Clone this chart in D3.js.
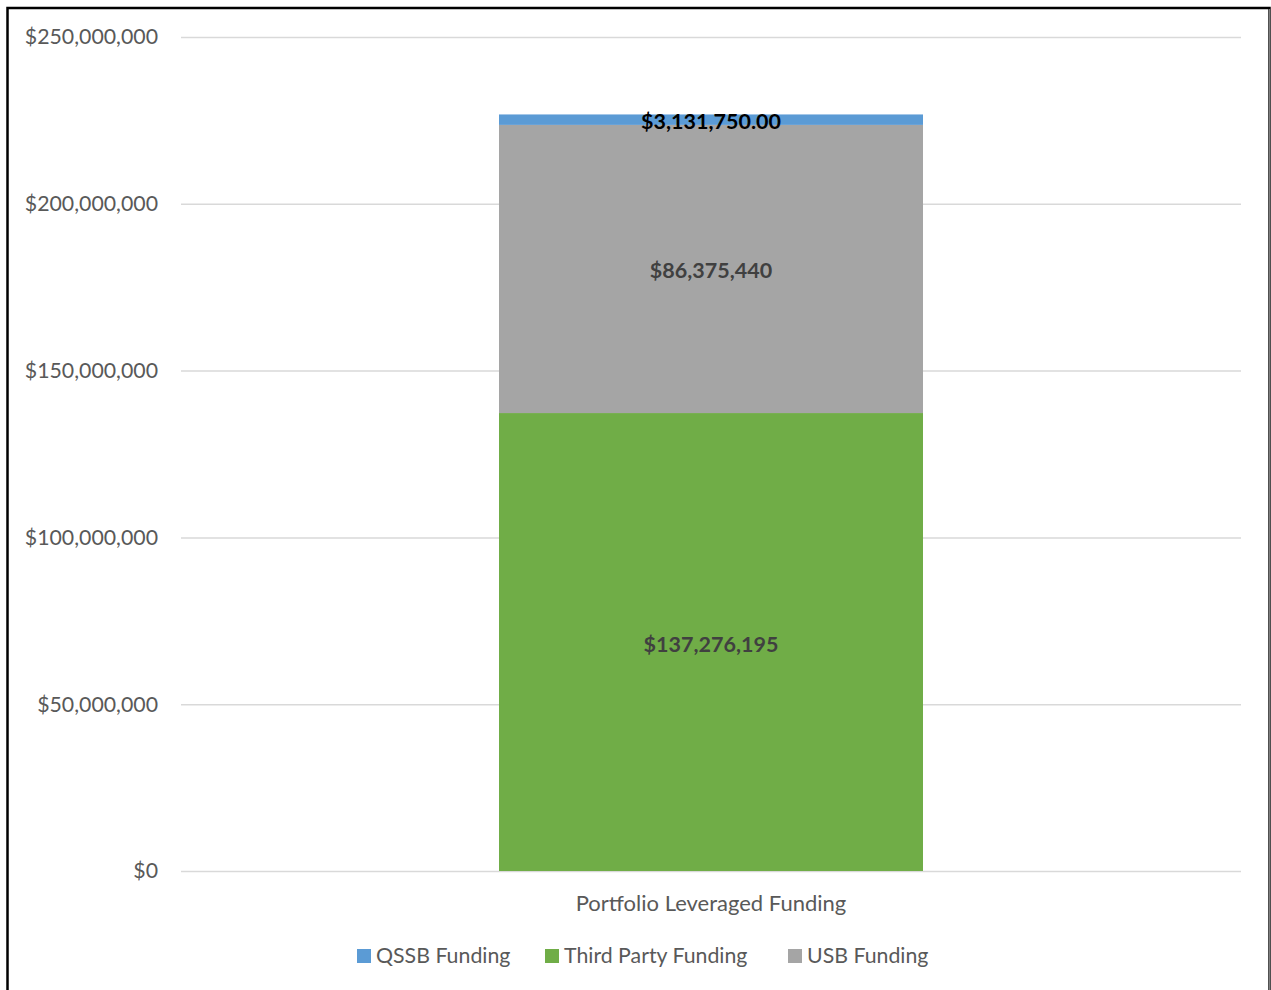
<html>
<head>
<script src="https://d3js.org/d3.v7.min.js"></script>
<style>
  body { margin: 0; background: #fff; }
  text { font-family: Lato, "Open Sans", sans-serif; }
  .axis path { display: none; }
  .axis line { stroke: #d9d9d9; stroke-width: 1.5; }
  .axis text { fill: #595959; font-size: 21.3px; }
</style>
</head>
<body>
<div id="chart"></div>
<script>
// chart data
const categories = ['Portfolio Leveraged Funding'];
const seriesNames = ['Third Party Funding', 'USB Funding', 'QSSB Funding'];
const thirdParty = [137276195];
const usb = [86375440];
const qssb = [3131750];
const valueLabels = ['$137,276,195', '$86,375,440', '$3,131,750.00'];
const yTicks = [0, 50000000, 100000000, 150000000, 200000000, 250000000];
const legendOrder = ['QSSB Funding', 'Third Party Funding', 'USB Funding'];

const colors = { 'QSSB Funding': '#5b9bd5', 'Third Party Funding': '#70ad47', 'USB Funding': '#a5a5a5' };
const labelColors = { 'QSSB Funding': '#000', 'Third Party Funding': '#404040', 'USB Funding': '#404040' };

const width = 1271, height = 990;
const margin = { top: 37, right: 30, bottom: 119, left: 181 };

const svg = d3.select('#chart').append('svg')
    .attr('width', width)
    .attr('height', height);

// outer border
svg.append('rect')
    .attr('x', 7.5).attr('y', 8)
    .attr('width', 1262).attr('height', 990)
    .attr('fill', 'none').attr('stroke', '#000').attr('stroke-width', 2.5);
svg.append('line')
    .attr('x1', 1269.5).attr('x2', 1269.5).attr('y1', 9).attr('y2', 990)
    .attr('stroke', '#7f7f7f').attr('stroke-width', 1.5);

const x = d3.scaleBand()
    .domain(categories)
    .range([margin.left, width - margin.right])
    .paddingInner(0.4).paddingOuter(0.3);

const y = d3.scaleLinear()
    .domain([0, 250000000])
    .range([height - margin.bottom, margin.top]);

// grid / y axis
svg.append('g')
    .attr('class', 'axis')
    .attr('transform', `translate(${margin.left},0)`)
    .call(d3.axisLeft(y)
        .tickValues(yTicks)
        .tickSize(-(width - margin.right - margin.left))
        .tickPadding(23)
        .tickFormat(d => '$' + d3.format(',')(d)));

// stack
const rows = categories.map((c, i) => ({
    cat: c,
    'Third Party Funding': thirdParty[i],
    'USB Funding': usb[i],
    'QSSB Funding': qssb[i]
}));
const stacked = d3.stack().keys(seriesNames)(rows);

const bw = 424;
stacked.forEach((s, si) => {
    svg.selectAll(null)
        .data(s)
        .enter()
        .append('rect')
        .attr('x', d => x(d.data.cat) + x.bandwidth() / 2 - bw / 2)
        .attr('y', d => y(d[1]))
        .attr('width', bw)
        .attr('height', d => y(d[0]) - y(d[1]))
        .attr('fill', colors[s.key]);
    svg.selectAll(null)
        .data(s)
        .enter()
        .append('text')
        .attr('x', d => x(d.data.cat) + x.bandwidth() / 2)
        .attr('y', d => (y(d[0]) + y(d[1])) / 2 + 2)
        .attr('dy', '0.35em')
        .attr('text-anchor', 'middle')
        .style('font-size', '21.5px')
        .style('font-weight', 'bold')
        .attr('fill', labelColors[s.key])
        .text(valueLabels[si]);
});

// category label
svg.selectAll(null)
    .data(categories)
    .enter()
    .append('text')
    .attr('x', d => x(d) + x.bandwidth() / 2)
    .attr('y', height - margin.bottom + 40)
    .attr('text-anchor', 'middle')
    .attr('fill', '#595959')
    .style('font-size', '22px')
    .text(d => d);

// legend
const legendX = [357, 545, 788];
const legend = svg.selectAll('.legend')
    .data(legendOrder)
    .enter()
    .append('g')
    .attr('transform', (d, i) => `translate(${legendX[i]},956)`);
legend.append('rect')
    .attr('x', 0).attr('y', -7)
    .attr('width', 14).attr('height', 14)
    .attr('fill', d => colors[d]);
legend.append('text')
    .attr('x', 19)
    .attr('dy', '0.35em')
    .attr('fill', '#595959')
    .style('font-size', '21.3px')
    .text(d => d);
</script>
</body>
</html>
